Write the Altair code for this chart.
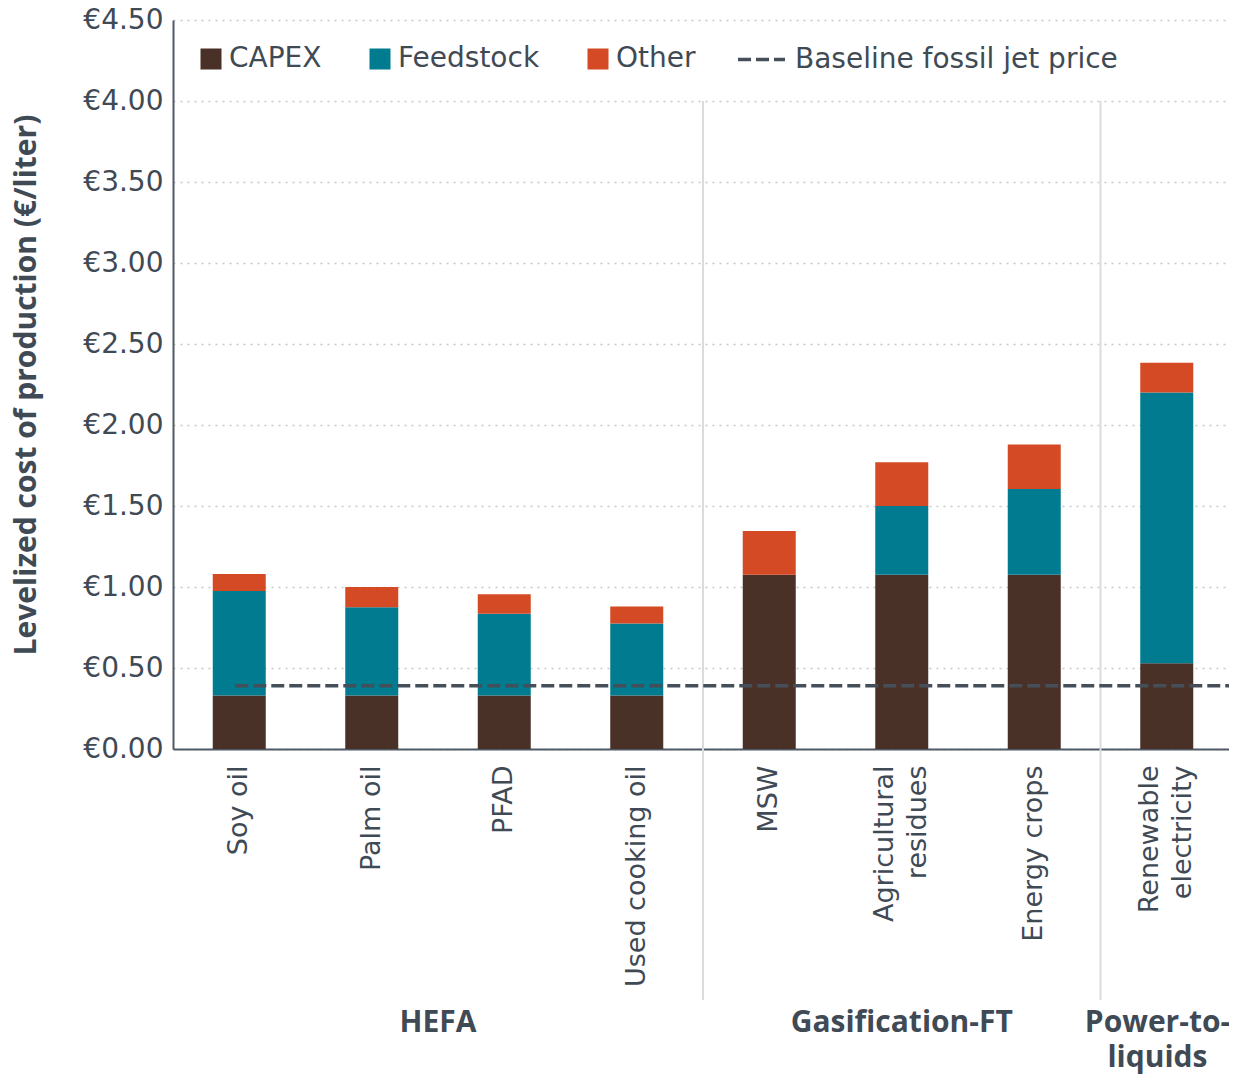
import json
import altair as alt
import pandas as pd

# ---------------- data ----------------
categories = ["Soy oil", "Palm oil", "PFAD", "Used cooking oil", "MSW",
              "Agricultural residues", "Energy crops", "Renewable electricity"]
tick_label_lines = {"Agricultural residues": ["Agricultural", "residues"],
                    "Renewable electricity": ["Renewable", "electricity"]}
capex = [0.33, 0.33, 0.33, 0.33, 1.075, 1.075, 1.075, 0.53]
feedstock = [0.645, 0.545, 0.505, 0.445, 0.0, 0.425, 0.53, 1.67]
other = [0.105, 0.125, 0.12, 0.105, 0.27, 0.27, 0.275, 0.185]
components = ["CAPEX", "Feedstock", "Other"]
component_colors = ["#4a3127", "#007b8f", "#d44a25"]
baseline_label = "Baseline fossil jet price"
baseline_value = 0.39
y_ticks = [0.0, 0.5, 1.0, 1.5, 2.0, 2.5, 3.0, 3.5, 4.0, 4.5]
separator_after = ["Used cooking oil", "Energy crops", "Renewable electricity"]
separator_top = 4.0
group_labels = ["HEFA", "Gasification-FT", "Power-to-\nliquids"]
group_anchor = ["Palm oil", "Agricultural residues", "Renewable electricity"]
group_band_pos = [1.0, 0.5, 0.43]

# ---------------- style ----------------
FONT = "DejaVu Sans"
BOLD_FONT = "Open Sans"
TXT = "#3f4a55"
AXIS = "#4e5a65"
W, H = 1060, 729
Y_TITLE = "Levelized cost of production (€/liter)"

rows = []
for i, c in enumerate(categories):
    for j, vals in enumerate([capex, feedstock, other]):
        rows.append({"category": c, "component": components[j], "value": vals[i], "order": j})
df = pd.DataFrame(rows)

x_scale = alt.Scale(domain=categories, paddingInner=0, paddingOuter=0)
y_scale = alt.Scale(domain=[0, 4.5], nice=False)

label_expr = ""
for name, lines in tick_label_lines.items():
    label_expr += f"datum.label == '{name}' ? {json.dumps(lines)} : "
label_expr += "datum.label"
multi_test = " || ".join(f"datum.label == '{name}'" for name in tick_label_lines)

x_axis = alt.Axis(labelAngle=270, labelAlign="right", labelBaseline="middle",
                  labelExpr=label_expr, labelFontSize=27, labelColor=TXT,
                  labelLineHeight=33,
                  labelOffset={"condition": {"test": multi_test, "value": -17}, "value": 0},
                  labelPadding=16, ticks=False, grid=False,
                  domainColor=AXIS, domainWidth=2, labelLimit=400, title=None)
y_axis = alt.Axis(values=y_ticks, labelExpr="'€' + format(datum.value, '.2f')",
                  labelFontSize=28, labelColor=TXT, labelPadding=10, ticks=False,
                  domainColor=AXIS, domainWidth=2, grid=True, gridColor="#c8c8c8",
                  gridDash=[2, 5], gridWidth=1.6, titleFont=BOLD_FONT, titleFontSize=30,
                  titleFontWeight="bold", titleColor=TXT, titlePadding=41, title=Y_TITLE)


def xenc(bp=0.5):
    return alt.X("category:N", scale=x_scale, sort=categories, bandPosition=bp, axis=x_axis, title=None)


bars = alt.Chart(df).mark_bar(width=alt.RelativeBandSize(0.4)).encode(
    x=alt.X("category:N", scale=x_scale, sort=categories, axis=x_axis, title=None),
    y=alt.Y("value:Q", stack="zero", scale=y_scale, axis=y_axis, title=Y_TITLE),
    color=alt.Color("component:N", scale=alt.Scale(domain=components, range=component_colors),
                    legend=alt.Legend(title=None, orient="none", legendX=24, legendY=25,
                                      direction="horizontal", symbolType="square",
                                      symbolSize=441, symbolStrokeWidth=0, labelFontSize=28,
                                      labelColor=TXT, labelOffset=4, columnPadding=44,
                                      padding=0, labelLimit=400)),
    order=alt.Order("order:Q", sort="ascending"),
)

sep_df = pd.DataFrame({"category": separator_after, "value": [separator_top] * len(separator_after)})
separators = alt.Chart(sep_df).mark_rule(color="#d9dcdf", strokeWidth=2).encode(
    x=xenc(1),
    y=alt.Y("value:Q", scale=y_scale, axis=y_axis, title=Y_TITLE),
    y2=alt.value(980),
)

base_df = pd.DataFrame({"category": [categories[0]], "value": [baseline_value],
                        "label": [baseline_label]})
baseline = alt.Chart(base_df).mark_rule(color="#454f5a", strokeWidth=3.5).encode(
    x=xenc(0.47),
    x2=alt.value(W + 10),
    y=alt.Y("value:Q", scale=y_scale, axis=y_axis, title=Y_TITLE),
    strokeDash=alt.StrokeDash("label:N", scale=alt.Scale(domain=[baseline_label], range=[[13, 5]]),
                              legend=alt.Legend(title=None, orient="none", legendX=563, legendY=14,
                                                symbolType="stroke", symbolSize=2209,
                                                symbolStrokeWidth=3.5, symbolStrokeColor="#454f5a",
                                                labelFontSize=28, labelColor=TXT, labelOffset=8,
                                                padding=0, labelLimit=500)),
)

group_layers = []
for name, anchor, bp in zip(group_labels, group_anchor, group_band_pos):
    gdf = pd.DataFrame({"category": [anchor], "group": [name]})
    group_layers.append(
        alt.Chart(gdf).mark_text(font=BOLD_FONT, fontSize=30, fontWeight="bold", color=TXT,
                                 lineBreak="\n", lineHeight=35, baseline="top",
                                 align="center").encode(
            x=xenc(bp),
            y=alt.value(988),
            text="group:N",
        )
    )

chart = alt.layer(separators, bars, baseline, *group_layers).properties(
    width=W, height=H,
    autosize=alt.AutoSizeParams(type="none"),
    padding={"left": 165, "top": 12, "right": -4, "bottom": 325},
).configure(font=FONT).configure_view(stroke=None)

chart.save("out.html", embed_options={"renderer": "svg", "actions": False})
